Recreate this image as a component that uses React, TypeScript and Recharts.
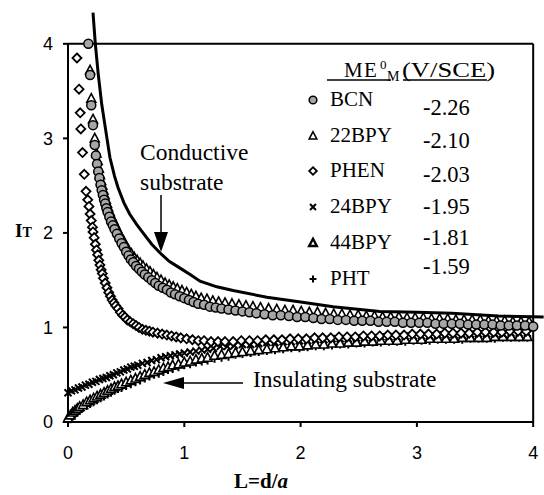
import React from 'react'
import { ReferenceLine, Scatter, ScatterChart, XAxis, YAxis } from 'recharts'

type Pt = [number, number]

// theory curve, conductive substrate
const THEORY: Pt[] = [
  [0.215, 4.33], [0.235, 4.0], [0.26, 3.68], [0.29, 3.36], [0.335, 3.0], [0.36, 2.8],
  [0.4, 2.6], [0.43, 2.48], [0.48, 2.32], [0.53, 2.2], [0.59, 2.09], [0.645, 2.0],
  [0.72, 1.88], [0.79, 1.79], [0.87, 1.7], [0.96, 1.63], [1.05, 1.56], [1.135, 1.49],
  [1.28, 1.43], [1.42, 1.39], [1.71, 1.32], [2.0, 1.27], [2.28, 1.22], [2.68, 1.17],
  [3.0, 1.16], [3.3, 1.15], [3.7, 1.12], [4.09, 1.11],
]

const BCN: Pt[] = [
  [0.175, 4.0], [0.19, 3.67], [0.2, 3.35], [0.215, 3.14], [0.23, 2.93], [0.24, 2.82],
  [0.25, 2.73], [0.26, 2.65], [0.27, 2.58], [0.28, 2.51], [0.29, 2.45], [0.3, 2.4],
  [0.31, 2.35], [0.32, 2.31], [0.33, 2.26], [0.34, 2.22], [0.355, 2.17], [0.37, 2.12],
  [0.385, 2.08], [0.4, 2.04], [0.42, 1.99], [0.44, 1.94], [0.46, 1.89], [0.48, 1.85],
  [0.5, 1.8], [0.52, 1.76], [0.54, 1.72], [0.56, 1.69], [0.585, 1.65], [0.61, 1.62],
  [0.635, 1.59], [0.66, 1.56], [0.69, 1.53], [0.72, 1.5], [0.75, 1.47], [0.78, 1.44],
  [0.815, 1.42], [0.85, 1.4], [0.885, 1.37], [0.92, 1.35], [0.96, 1.33], [1.0, 1.31],
  [1.04, 1.29], [1.08, 1.27], [1.12, 1.25], [1.17, 1.24], [1.22, 1.22], [1.27, 1.21],
  [1.32, 1.2], [1.38, 1.19], [1.44, 1.18], [1.5, 1.17], [1.56, 1.16], [1.62, 1.15],
  [1.69, 1.14], [1.76, 1.13], [1.83, 1.13], [1.9, 1.12], [1.97, 1.11], [2.04, 1.11],
  [2.11, 1.1], [2.18, 1.09], [2.25, 1.09], [2.32, 1.08], [2.39, 1.08], [2.46, 1.07],
  [2.53, 1.07], [2.6, 1.07], [2.67, 1.06], [2.74, 1.06], [2.81, 1.06], [2.88, 1.05],
  [2.95, 1.05], [3.02, 1.05], [3.09, 1.05], [3.16, 1.04], [3.23, 1.04], [3.3, 1.04],
  [3.37, 1.04], [3.44, 1.03], [3.51, 1.03], [3.58, 1.03], [3.65, 1.03], [3.72, 1.02],
  [3.79, 1.02], [3.86, 1.02], [3.93, 1.02], [4.0, 1.01],
]

const BPY22: Pt[] = [
  [0.19, 3.72], [0.2, 3.42], [0.215, 3.2], [0.23, 3.0], [0.245, 2.84], [0.255, 2.76],
  [0.265, 2.68], [0.275, 2.61], [0.285, 2.55], [0.295, 2.5], [0.305, 2.45], [0.315, 2.4],
  [0.325, 2.35], [0.335, 2.31], [0.345, 2.27], [0.36, 2.22], [0.375, 2.17], [0.39, 2.13],
  [0.405, 2.09], [0.42, 2.05], [0.44, 2.0], [0.46, 1.95], [0.48, 1.91], [0.5, 1.86],
  [0.52, 1.82], [0.545, 1.78], [0.57, 1.74], [0.595, 1.71], [0.62, 1.68], [0.645, 1.65],
  [0.675, 1.62], [0.705, 1.59], [0.735, 1.56], [0.765, 1.53], [0.8, 1.5], [0.835, 1.47],
  [0.87, 1.45], [0.905, 1.43], [0.94, 1.41], [0.98, 1.39], [1.02, 1.37], [1.06, 1.35],
  [1.1, 1.33], [1.145, 1.31], [1.195, 1.3], [1.245, 1.28], [1.295, 1.27], [1.35, 1.26],
  [1.41, 1.25], [1.47, 1.24], [1.53, 1.23], [1.59, 1.22], [1.655, 1.21], [1.725, 1.2],
  [1.795, 1.19], [1.865, 1.18], [1.935, 1.18], [2.005, 1.17], [2.075, 1.16], [2.145, 1.16],
  [2.215, 1.15], [2.285, 1.14], [2.355, 1.14], [2.425, 1.13], [2.495, 1.13], [2.565, 1.12],
  [2.635, 1.12], [2.705, 1.11], [2.775, 1.11], [2.845, 1.11], [2.915, 1.1], [2.985, 1.1],
  [3.055, 1.1], [3.125, 1.09], [3.195, 1.09], [3.265, 1.09], [3.335, 1.08], [3.405, 1.08],
  [3.475, 1.08], [3.545, 1.08], [3.615, 1.07], [3.685, 1.07], [3.755, 1.07], [3.825, 1.06],
  [3.895, 1.06], [3.965, 1.06],
]

const PHEN: Pt[] = [
  [0.077, 3.85], [0.095, 3.52], [0.105, 3.27], [0.11, 3.1], [0.125, 2.85], [0.14, 2.62],
  [0.155, 2.44], [0.17, 2.35], [0.18, 2.28], [0.19, 2.2], [0.2, 2.13], [0.21, 2.06],
  [0.215, 2.01], [0.225, 1.95], [0.235, 1.88], [0.245, 1.82], [0.255, 1.77], [0.265, 1.71],
  [0.275, 1.66], [0.285, 1.61], [0.295, 1.57], [0.305, 1.52], [0.32, 1.47], [0.335, 1.42],
  [0.35, 1.37], [0.365, 1.33], [0.38, 1.29], [0.395, 1.26], [0.41, 1.23], [0.43, 1.2],
  [0.45, 1.16], [0.47, 1.13], [0.49, 1.11], [0.51, 1.08], [0.535, 1.06], [0.56, 1.04],
  [0.585, 1.02], [0.61, 1.0], [0.64, 0.98], [0.67, 0.97], [0.7, 0.96], [0.73, 0.95],
  [0.77, 0.94], [0.81, 0.93], [0.85, 0.92], [0.89, 0.91], [0.93, 0.9], [0.97, 0.89],
  [1.02, 0.88], [1.07, 0.87], [1.12, 0.86], [1.17, 0.86], [1.23, 0.85], [1.29, 0.85],
  [1.35, 0.85], [1.42, 0.85], [1.49, 0.86], [1.56, 0.86], [1.63, 0.86], [1.7, 0.87],
  [1.77, 0.87], [1.84, 0.87], [1.91, 0.88], [1.98, 0.88], [2.05, 0.88], [2.12, 0.89],
  [2.19, 0.89], [2.26, 0.89], [2.33, 0.9], [2.4, 0.9], [2.47, 0.9], [2.54, 0.91],
  [2.61, 0.91], [2.68, 0.91], [2.75, 0.92], [2.82, 0.92], [2.89, 0.92], [2.96, 0.93],
  [3.03, 0.93], [3.1, 0.93], [3.17, 0.93], [3.24, 0.94], [3.31, 0.94], [3.38, 0.94],
  [3.45, 0.94], [3.52, 0.95], [3.59, 0.95], [3.66, 0.95], [3.73, 0.95], [3.8, 0.96],
  [3.87, 0.96], [3.94, 0.96],
]

const BPY24: Pt[] = [
  [0.0, 0.31], [0.03, 0.33], [0.06, 0.34], [0.09, 0.36], [0.12, 0.37], [0.15, 0.39],
  [0.18, 0.4], [0.21, 0.42], [0.24, 0.43], [0.27, 0.45], [0.3, 0.46], [0.33, 0.47],
  [0.36, 0.49], [0.39, 0.5], [0.42, 0.52], [0.45, 0.53], [0.48, 0.55], [0.51, 0.56],
  [0.54, 0.58], [0.57, 0.59], [0.6, 0.6], [0.64, 0.62], [0.68, 0.63], [0.72, 0.65],
  [0.76, 0.66], [0.8, 0.68], [0.84, 0.69], [0.88, 0.7], [0.92, 0.71], [0.96, 0.72],
  [1.0, 0.73], [1.05, 0.74], [1.1, 0.75], [1.15, 0.76], [1.2, 0.77], [1.25, 0.78],
  [1.31, 0.8], [1.37, 0.8], [1.43, 0.81], [1.5, 0.82], [1.57, 0.82], [1.64, 0.83],
  [1.71, 0.84], [1.78, 0.84], [1.85, 0.85], [1.92, 0.85], [1.99, 0.86], [2.06, 0.86],
  [2.13, 0.87], [2.2, 0.87], [2.27, 0.88], [2.34, 0.88], [2.41, 0.88], [2.48, 0.89],
  [2.55, 0.89], [2.62, 0.89], [2.69, 0.9], [2.76, 0.9], [2.83, 0.9], [2.9, 0.91],
  [2.97, 0.91], [3.04, 0.91], [3.11, 0.91], [3.18, 0.92], [3.25, 0.92], [3.32, 0.92],
  [3.39, 0.92], [3.46, 0.93], [3.53, 0.93], [3.6, 0.93], [3.67, 0.93], [3.74, 0.93],
  [3.81, 0.94], [3.88, 0.94], [3.95, 0.94],
]

const BPY44: Pt[] = [
  [0.0, 0.04], [0.02, 0.07], [0.04, 0.1], [0.06, 0.12], [0.08, 0.14], [0.1, 0.16],
  [0.13, 0.18], [0.16, 0.21], [0.19, 0.23], [0.22, 0.25], [0.25, 0.27], [0.28, 0.29],
  [0.31, 0.31], [0.34, 0.33], [0.37, 0.35], [0.4, 0.37], [0.43, 0.38], [0.46, 0.4],
  [0.5, 0.42], [0.54, 0.44], [0.58, 0.46], [0.62, 0.48], [0.66, 0.5], [0.7, 0.52],
  [0.74, 0.53], [0.78, 0.55], [0.82, 0.57], [0.86, 0.58], [0.9, 0.6], [0.95, 0.61],
  [1.0, 0.63], [1.05, 0.64], [1.1, 0.66], [1.15, 0.67], [1.2, 0.68], [1.26, 0.7],
  [1.32, 0.71], [1.38, 0.72], [1.44, 0.73], [1.5, 0.74], [1.57, 0.75], [1.64, 0.76],
  [1.71, 0.77], [1.78, 0.78], [1.85, 0.79], [1.92, 0.8], [1.99, 0.8], [2.06, 0.81],
  [2.13, 0.82], [2.2, 0.82], [2.27, 0.83], [2.34, 0.83], [2.41, 0.84], [2.48, 0.84],
  [2.55, 0.85], [2.62, 0.85], [2.69, 0.86], [2.76, 0.86], [2.83, 0.86], [2.9, 0.87],
  [2.97, 0.87], [3.04, 0.87], [3.11, 0.88], [3.18, 0.88], [3.25, 0.88], [3.32, 0.88],
  [3.39, 0.89], [3.46, 0.89], [3.53, 0.89], [3.6, 0.89], [3.67, 0.9], [3.74, 0.9],
  [3.81, 0.9], [3.88, 0.9], [3.95, 0.9],
]

const PHT: Pt[] = [
  [0.0, 0.01], [0.02, 0.03], [0.04, 0.06], [0.06, 0.08], [0.08, 0.1], [0.1, 0.12],
  [0.13, 0.15], [0.16, 0.17], [0.19, 0.19], [0.22, 0.21], [0.25, 0.23], [0.28, 0.25],
  [0.31, 0.27], [0.34, 0.29], [0.37, 0.31], [0.4, 0.33], [0.43, 0.35], [0.46, 0.36],
  [0.5, 0.38], [0.54, 0.4], [0.58, 0.42], [0.62, 0.44], [0.66, 0.46], [0.7, 0.48],
  [0.74, 0.5], [0.78, 0.51], [0.82, 0.53], [0.86, 0.55], [0.9, 0.56], [0.95, 0.58],
  [1.0, 0.6], [1.05, 0.61], [1.1, 0.63], [1.15, 0.64], [1.2, 0.65], [1.26, 0.67],
  [1.32, 0.68], [1.38, 0.69], [1.44, 0.71], [1.5, 0.72], [1.57, 0.73], [1.64, 0.74],
  [1.71, 0.75], [1.78, 0.76], [1.85, 0.77], [1.92, 0.78], [1.99, 0.78], [2.06, 0.79],
  [2.13, 0.8], [2.2, 0.8], [2.27, 0.81], [2.34, 0.82], [2.41, 0.82], [2.48, 0.83],
  [2.55, 0.83], [2.62, 0.84], [2.69, 0.84], [2.76, 0.85], [2.83, 0.85], [2.9, 0.85],
  [2.97, 0.86], [3.04, 0.86], [3.11, 0.86], [3.18, 0.87], [3.25, 0.87], [3.32, 0.87],
  [3.39, 0.87], [3.46, 0.88], [3.53, 0.88], [3.6, 0.88], [3.67, 0.88], [3.74, 0.89],
  [3.81, 0.89], [3.88, 0.89], [3.95, 0.89],
]

const TICKS = [0, 1, 2, 3, 4]
const LEGEND_NAMES = ['BCN', '22BPY', 'PHEN', '24BPY', '44BPY', 'PHT']
const LEGEND_VALUES = ['-2.26', '-2.10', '-2.03', '-1.95', '-1.81', '-1.59']

const SERIF = "'Liberation Serif', 'Times New Roman', 'DejaVu Serif', serif"
const SANS = "'Liberation Sans', Arial, sans-serif"

const toRows = (pts: Pt[]) => pts.map(([x, y]) => ({ x, y }))

type MarkProps = { cx?: number; cy?: number; s?: number; w?: number }

const Circle = ({ cx = 0, cy = 0, s = 1 }: MarkProps) => (
  <circle cx={cx} cy={cy} r={4.5 * s} fill="#a6a6a6" stroke="#000" strokeWidth={1.5} />
)
const Triangle = ({ cx = 0, cy = 0, s = 1, w = 1.6 }: MarkProps) => (
  <path
    d={`M${cx},${cy - 5 * s}L${cx + 4.5 * s},${cy + 3.5 * s}L${cx - 4.5 * s},${cy + 3.5 * s}Z`}
    fill="#fff"
    stroke="#000"
    strokeWidth={w}
  />
)
const Diamond = ({ cx = 0, cy = 0, s = 1 }: MarkProps) => (
  <path
    d={`M${cx},${cy - 4.5 * s}L${cx + 4.5 * s},${cy}L${cx},${cy + 4.5 * s}L${cx - 4.5 * s},${cy}Z`}
    fill="#fff"
    stroke="#000"
    strokeWidth={1.8}
  />
)
const Cross = ({ cx = 0, cy = 0, s = 1 }: MarkProps) => (
  <path
    d={`M${cx - 3.5 * s},${cy - 3.5 * s}L${cx + 3.5 * s},${cy + 3.5 * s}M${cx + 3.5 * s},${cy - 3.5 * s}L${cx - 3.5 * s},${cy + 3.5 * s}`}
    stroke="#000"
    strokeWidth={2}
  />
)
const Plus = ({ cx = 0, cy = 0, s = 1 }: MarkProps) => (
  <path d={`M${cx - 4 * s},${cy}L${cx + 4 * s},${cy}M${cx},${cy - 4 * s}L${cx},${cy + 4 * s}`} stroke="#000" strokeWidth={2} />
)

const LEGEND_MARKS = [Circle, Triangle, Diamond, Cross, Triangle, Plus]
const LEGEND_STROKE = [1.5, 1.6, 1.8, 2, 2.4, 2]
const NAME_Y = [106, 142, 177, 213, 249, 285]
const VALUE_Y = [115, 148, 182, 214, 245, 274]

const frame = [
  [{ x: 0, y: 0 }, { x: 0, y: 4 }],
  [{ x: 0, y: 4 }, { x: 4, y: 4 }],
  [{ x: 4, y: 4 }, { x: 4, y: 0 }],
  [{ x: 0, y: 0 }, { x: 4, y: 0 }],
]

const serif = (size: number, extra: React.CSSProperties = {}) => ({ fontFamily: SERIF, fontSize: size, ...extra })

function Overlay() {
  return (
    <svg width={544} height={495} style={{ position: 'absolute', left: 0, top: 0, pointerEvents: 'none' }}>
      {/* axis titles */}
      <text x={15} y={237} style={serif(19, { fontWeight: 'bold' })}>
        I<tspan style={{ fontSize: 14 }}>T</tspan>
      </text>
      <text x={261} y={488} textAnchor="middle" style={serif(21, { fontWeight: 'bold' })}>
        L=d/<tspan style={{ fontStyle: 'italic' }}>a</tspan>
      </text>

      {/* annotations */}
      <text x={140} y={160} style={serif(23.5)}>Conductive</text>
      <text x={140} y={190} style={serif(23.5)}>substrate</text>
      <line x1={161} y1={195} x2={161} y2={234} stroke="#000" strokeWidth={1.5} />
      <path d="M154,232L168,232L161,252Z" fill="#000" />
      <text x={253} y={387} style={serif(23.5)}>Insulating substrate</text>
      <line x1={183} y1={383} x2={243} y2={383} stroke="#000" strokeWidth={1.5} />
      <path d="M163,383L184,377L184,389Z" fill="#000" />

      {/* legend */}
      <text x={344} y={77} style={serif(21)}>M</text>
      <text x={364} y={77} style={serif(21)}>E</text>
      <text x={380} y={69} style={serif(13)}>0</text>
      <text x={387} y={81} style={serif(14)}>M</text>
      <text x={402} y={77} textLength={93} lengthAdjust="spacingAndGlyphs" style={serif(22)}>(V/SCE)</text>
      <line x1={327} y1={80} x2={391} y2={80} stroke="#000" strokeWidth={1.5} />
      <line x1={403} y1={80} x2={487} y2={80} stroke="#000" strokeWidth={1.5} />
      {LEGEND_NAMES.map((name, i) => {
        const Mark = LEGEND_MARKS[i]
        return (
          <g key={name}>
            <Mark cx={313} cy={NAME_Y[i] - 6} s={0.85} w={LEGEND_STROKE[i]} />
            <text x={330} y={NAME_Y[i]} style={serif(21)}>{name}</text>
            <text x={423} y={VALUE_Y[i]} style={serif(22.5)}>{LEGEND_VALUES[i]}</text>
          </g>
        )
      })}
    </svg>
  )
}

export default function App() {
  return (
    <div style={{ position: 'absolute', left: 0, top: 0, width: 544, height: 495, background: '#fff' }}>
      <ScatterChart width={544} height={495} margin={{ top: 6, right: 0, bottom: 0, left: 0 }}>
        <XAxis
          type="number"
          dataKey="x"
          domain={[0, 4.093]}
          ticks={TICKS}
          axisLine={false}
          tickSize={5}
          tickMargin={19}
          height={73}
          tickLine={{ stroke: '#000', strokeWidth: 2 }}
          tick={{ fontSize: 18, fill: '#000', fontFamily: SANS }}
        />
        <YAxis
          type="number"
          dataKey="y"
          domain={[0, 4.4]}
          ticks={TICKS}
          axisLine={false}
          tickSize={5}
          tickMargin={10}
          width={68}
          tickLine={{ stroke: '#000', strokeWidth: 2 }}
          tick={{ fontSize: 18, fill: '#000', fontFamily: SANS }}
        />
        <Scatter data={toRows(PHT)} shape={(p: MarkProps) => <Plus cx={p.cx} cy={p.cy} />} isAnimationActive={false} />
        <Scatter data={toRows(BPY44)} shape={(p: MarkProps) => <Triangle cx={p.cx} cy={p.cy} />} isAnimationActive={false} />
        <Scatter data={toRows(BPY24)} shape={(p: MarkProps) => <Cross cx={p.cx} cy={p.cy} />} isAnimationActive={false} />
        <Scatter data={toRows(PHEN)} shape={(p: MarkProps) => <Diamond cx={p.cx} cy={p.cy} />} isAnimationActive={false} />
        <Scatter data={toRows(BPY22)} shape={(p: MarkProps) => <Triangle cx={p.cx} cy={p.cy} />} isAnimationActive={false} />
        <Scatter data={toRows(BCN)} shape={(p: MarkProps) => <Circle cx={p.cx} cy={p.cy} />} isAnimationActive={false} />
        <Scatter
          data={toRows(THEORY)}
          line={{ stroke: '#000', strokeWidth: 3 }}
          shape={() => <g />}
          isAnimationActive={false}
        />
        {frame.map((seg, i) => (
          <ReferenceLine key={i} segment={seg} stroke="#000" strokeWidth={2} />
        ))}
      </ScatterChart>
      <Overlay />
    </div>
  )
}
